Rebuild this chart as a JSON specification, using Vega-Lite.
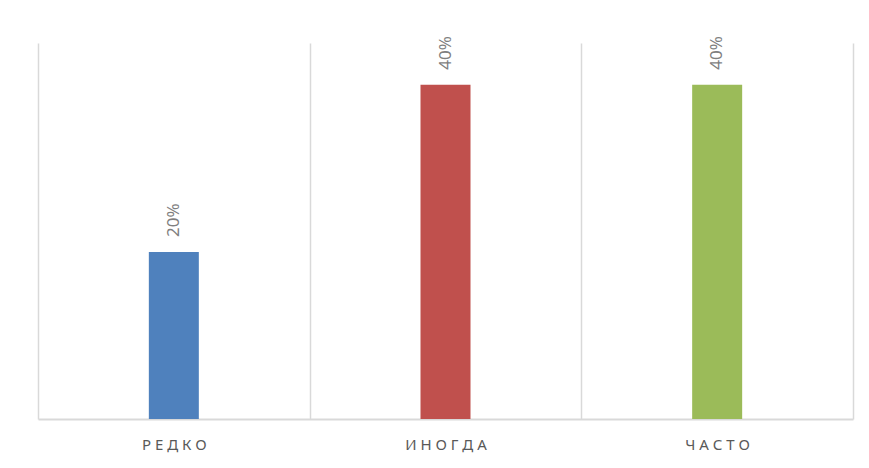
{
  "$schema": "https://vega.github.io/schema/vega-lite/v6.json",
  "width": 815,
  "height": 376,
  "autosize": {"type": "none"},
  "padding": {"left": 38, "top": 43, "right": 16, "bottom": 49},
  "background": "white",
  "config": {"view": {"stroke": null}, "font": "Noto Sans"},
  "data": {
    "values": [
      {"category": "РЕДКО", "share": 0.2},
      {"category": "ИНОГДА", "share": 0.4},
      {"category": "ЧАСТО", "share": 0.4}
    ]
  },
  "encoding": {
    "x": {
      "field": "category",
      "type": "nominal",
      "sort": null,
      "scale": {"paddingInner": 0, "paddingOuter": 0},
      "axis": {
        "title": null,
        "labelAngle": 0,
        "labelFont": "Noto Sans",
        "labelFontSize": 15,
        "labelColor": "#595959",
        "labelPadding": 18,
        "labelExpr": "join(split(datum.label, ''), ' ')",
        "tickBand": "extent",
        "ticks": false,
        "grid": true,
        "gridColor": "#d9d9d9",
        "gridWidth": 1.5,
        "domainColor": "#d9d9d9",
        "domainWidth": 2
      }
    },
    "y": {
      "field": "share",
      "type": "quantitative",
      "scale": {"domain": [0, 0.45]},
      "axis": null
    }
  },
  "layer": [
    {
      "mark": {"type": "bar", "width": 50},
      "encoding": {
        "color": {
          "field": "category",
          "type": "nominal",
          "sort": null,
          "scale": {"domain": ["РЕДКО", "ИНОГДА", "ЧАСТО"], "range": ["#4f81bd", "#c0504d", "#9bbb59"]},
          "legend": null
        }
      }
    },
    {
      "mark": {"type": "text", "angle": -90, "align": "left", "baseline": "middle", "dx": 15, "fontSize": 17, "color": "#7f7f7f", "font": "Noto Sans"},
      "encoding": {
        "text": {"field": "share", "type": "quantitative", "format": ".0%"}
      }
    }
  ]
}
